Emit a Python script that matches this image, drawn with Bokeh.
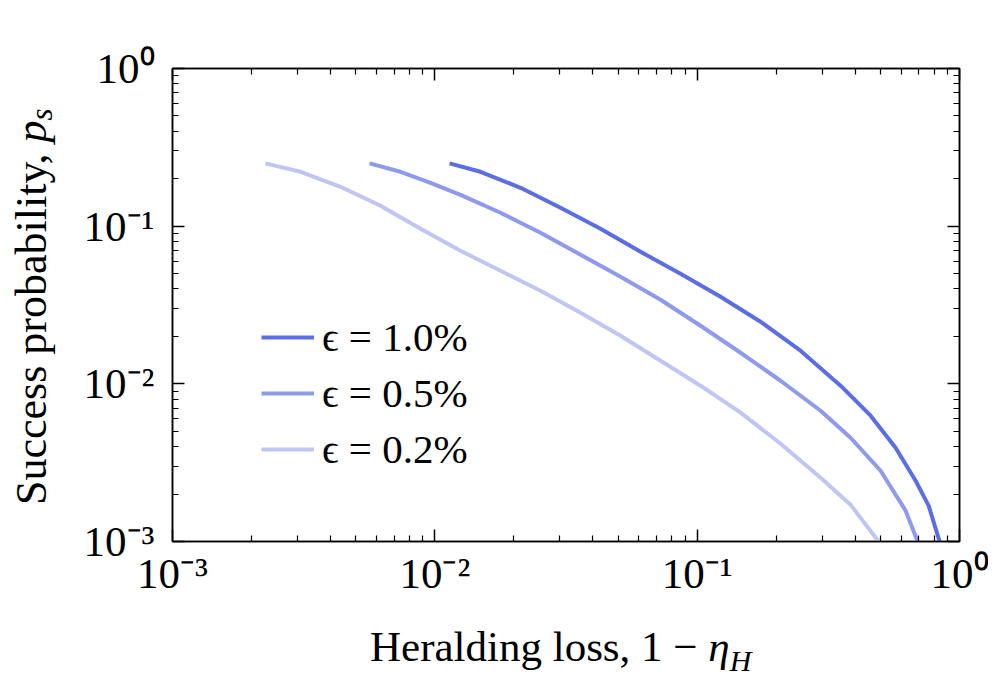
from bokeh.plotting import figure
from bokeh.layouts import column, row
from bokeh.models import (LogAxis, FixedTicker, CustomJSTickFormatter, Legend,
                          LegendItem, Range1d, Div)
from bokeh.embed import file_html
from bokeh.resources import INLINE

# ---- data ----
loss_eps10 = [0.01138, 0.01493, 0.02122, 0.03014, 0.04282, 0.06085, 0.0864, 0.1228,
              0.1744, 0.2478, 0.3521, 0.4583, 0.5706, 0.6804, 0.7626, 0.8399]
ps_eps10 = [0.25, 0.2213, 0.1752, 0.1308, 0.0963, 0.0688, 0.0499, 0.03567,
            0.02476, 0.01622, 0.00973, 0.00628, 0.00393, 0.00243, 0.00169, 0.001]

loss_eps05 = [0.00564, 0.0074, 0.00963, 0.01253, 0.0178, 0.02529, 0.03593, 0.05105,
              0.07253, 0.103, 0.1464, 0.208, 0.2955, 0.3844, 0.5003, 0.6229, 0.6924]
ps_eps05 = [0.25, 0.2213, 0.1884, 0.1581, 0.1216, 0.0908, 0.0659, 0.04776,
            0.03414, 0.02335, 0.01575, 0.01046, 0.00675, 0.00455, 0.00281, 0.00157, 0.001]

loss_eps02 = [0.00226, 0.00308, 0.00437, 0.00621, 0.00882, 0.01253, 0.0178, 0.02529,
              0.03593, 0.05105, 0.07253, 0.103, 0.1464, 0.208, 0.2955, 0.3844, 0.4915]
ps_eps02 = [0.25, 0.2213, 0.1778, 0.1347, 0.0963, 0.0698, 0.0522, 0.03894,
            0.02824, 0.02018, 0.01401, 0.00973, 0.00656, 0.00417, 0.00254, 0.00171, 0.001]

series_labels = ["ϵ = 1.0%", "ϵ = 0.5%", "ϵ = 0.2%"]
series_colors = ["#5b6ee6", "#8d9aee", "#bfc6f5"]

tick_values = [0.001, 0.01, 0.1, 1.0]
tick_labels = ["10⁻³", "10⁻²", "10⁻¹", "10⁰"]
minor_values = [m * 10.0 ** e for e in (-3, -2, -1) for m in range(2, 10)]

x_title_html = "Heralding loss, 1 − <i>η</i><sub><i>H</i></sub>"
y_title_html = "Success probability, <i>p</i><sub><i>s</i></sub>"

FONT = "Liberation Serif"

p = figure(frame_width=787, frame_height=473,
           x_axis_type="log", y_axis_type="log",
           x_range=Range1d(1e-3, 1.0), y_range=Range1d(1e-3, 1.0),
           output_backend="svg", toolbar_location=None,
           min_border_left=112, min_border_right=29,
           min_border_top=68, min_border_bottom=59,
           background_fill_color="white", border_fill_color="white")
p.grid.visible = False
p.outline_line_color = "black"
p.outline_line_width = 1.5

label_fmt = CustomJSTickFormatter(args=dict(tvals=tick_values, tlabs=tick_labels), code="""
let best = 0, bd = Infinity;
for (let i = 0; i < tvals.length; i++) {
  const d = Math.abs(Math.log10(tick) - Math.log10(tvals[i]));
  if (d < bd) { bd = d; best = i; }
}
return tlabs[best];
""")
blank_fmt = CustomJSTickFormatter(code="return '';")


def style_axis(ax, show_labels):
    ax.ticker = FixedTicker(ticks=tick_values, minor_ticks=minor_values)
    ax.formatter = label_fmt if show_labels else blank_fmt
    ax.axis_line_color = "black"
    ax.axis_line_width = 1.5
    ax.major_tick_line_color = "black"
    ax.major_tick_line_width = 1.5
    ax.minor_tick_line_color = "black"
    ax.minor_tick_line_width = 1.2
    ax.major_tick_in = 12
    ax.major_tick_out = 0
    ax.minor_tick_in = 6
    ax.minor_tick_out = 0
    ax.major_label_text_font = FONT
    ax.major_label_text_font_size = "43px"
    ax.major_label_text_color = "black"
    ax.axis_label = None


style_axis(p.xaxis[0], True)
style_axis(p.yaxis[0], True)
p.xaxis[0].major_label_standoff = 8
p.yaxis[0].major_label_standoff = 18

top_ax = LogAxis()
right_ax = LogAxis()
style_axis(top_ax, False)
style_axis(right_ax, False)
top_ax.major_label_standoff = 0
right_ax.major_label_standoff = 0
p.add_layout(top_ax, "above")
p.add_layout(right_ax, "right")

renderers = []
for xs, ys, c in [(loss_eps10, ps_eps10, series_colors[0]),
                  (loss_eps05, ps_eps05, series_colors[1]),
                  (loss_eps02, ps_eps02, series_colors[2])]:
    r = p.line(xs, ys, line_color=c, line_width=4, line_join="round")
    renderers.append(r)

legend = Legend(items=[LegendItem(label=lab, renderers=[r])
                       for lab, r in zip(series_labels, renderers)],
                location=(89, 68), orientation="vertical",
                label_text_font=FONT, label_text_font_size="41px",
                label_text_color="black",
                glyph_width=53, glyph_height=40, label_standoff=8,
                spacing=8, padding=0, margin=0,
                border_line_alpha=0, background_fill_alpha=0)
p.add_layout(legend)

# ---- axis titles as HTML text (italic symbols and subscripts kept as real text) ----
ylab = Div(width=60, height=600, margin=0, text=(
    '<div style="box-sizing:border-box; width:60px; height:600px; '
    'writing-mode:vertical-rl; transform:rotate(180deg); '
    'padding-top:95px; padding-right:10px; '
    "font-family:'Liberation Serif'; font-size:44px; line-height:44px; "
    'color:#000; white-space:nowrap;">'
    + y_title_html.replace("<sub>", '<sub style="font-size:31px; line-height:0;">')
    + '</div>'))

xlab = Div(width=988, height=90, margin=0, text=(
    '<div style="box-sizing:border-box; width:988px; height:90px; '
    'padding-left:370px; padding-top:25px; '
    "font-family:'Liberation Serif'; font-size:43px; line-height:43px; "
    'color:#000; white-space:nowrap;">'
    + x_title_html.replace("<sub>", '<sub style="font-size:30px; line-height:0;">')
    + '</div>'))

layout = column(row(ylab, p, spacing=0), xlab, spacing=0)

open("out.html", "w").write(file_html(layout, INLINE))
